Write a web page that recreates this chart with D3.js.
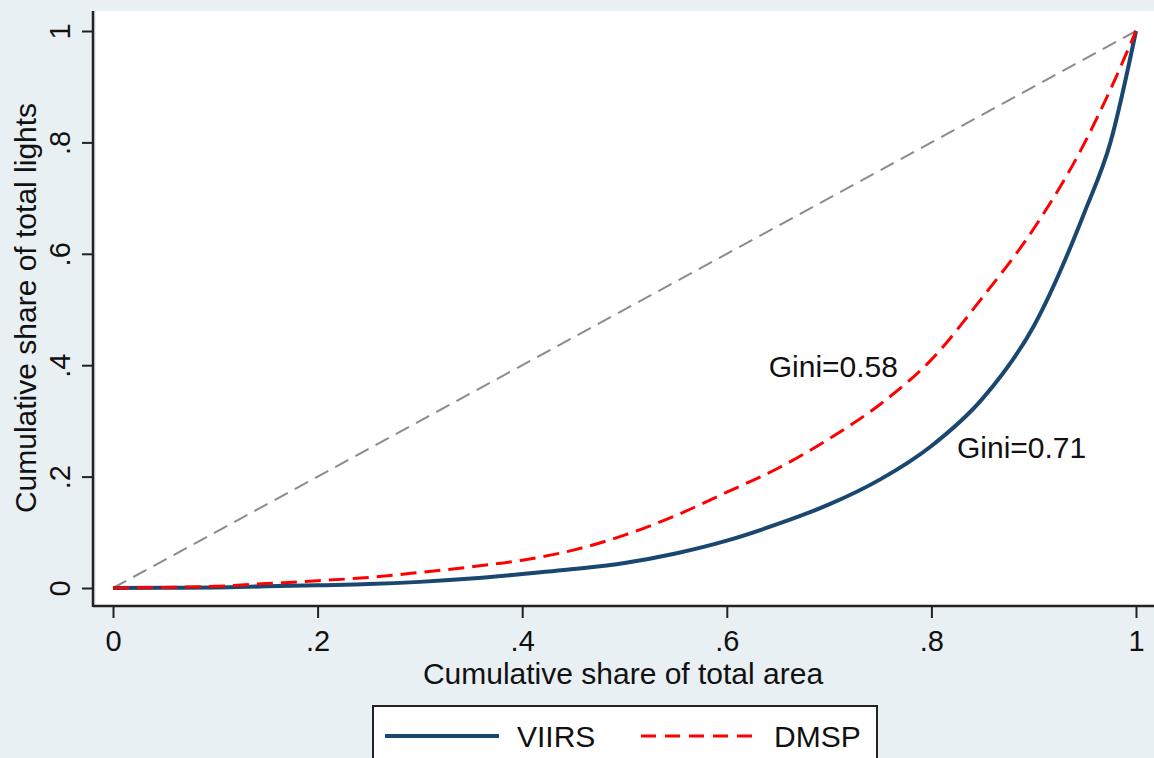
<!DOCTYPE html>
<html>
<head>
<meta charset="utf-8">
<script src="https://cdn.jsdelivr.net/npm/d3@7"></script>
<style>
  body { margin: 0; background: #e9f0f3; }
  text { font-family: "Liberation Sans", Arial, sans-serif; fill: #111; }
</style>
</head>
<body>
<script>
// cumulative share of area (x) vs cumulative share of lights (y)
var shareArea = [0, 0.05, 0.1, 0.15, 0.2, 0.25, 0.3, 0.35, 0.4, 0.45, 0.5, 0.55, 0.6, 0.65, 0.7, 0.75, 0.8, 0.85, 0.9, 0.95, 0.975, 1];
var viirs = [0, 0.0005, 0.001, 0.003, 0.005, 0.007, 0.011, 0.017, 0.025, 0.034, 0.045, 0.062, 0.085, 0.115, 0.15, 0.195, 0.255, 0.34, 0.47, 0.676, 0.8, 1];
var dmsp = [0, 0.001, 0.003, 0.008, 0.013, 0.019, 0.028, 0.038, 0.05, 0.068, 0.095, 0.13, 0.172, 0.215, 0.268, 0.33, 0.41, 0.522, 0.645, 0.8, 0.895, 1];
var equality = [0, 1];
var ticks = [0, 0.2, 0.4, 0.6, 0.8, 1];
var tickLabels = ['0', '.2', '.4', '.6', '.8', '1'];
var giniLabels = [{text: 'Gini=0.58', x: 0.641, y: 0.378}, {text: 'Gini=0.71', x: 0.825, y: 0.233}];
var seriesNames = ['VIIRS', 'DMSP'];

var width = 1154, height = 758;
var svg = d3.select('body').append('svg').attr('width', width).attr('height', height);

svg.append('rect').attr('width', width).attr('height', height).attr('fill', '#e9f0f3');

var x = d3.scaleLinear().domain([0, 1]).range([113, 1136]);
var y = d3.scaleLinear().domain([0, 1]).range([588, 31]);

// plot region
svg.append('rect').attr('x', 96).attr('y', 11).attr('width', width - 96).attr('height', 595).attr('fill', '#ffffff');

var line = d3.line()
    .x(function(d){ return x(d[0]); })
    .y(function(d){ return y(d[1]); })
    .curve(d3.curveMonotoneX);

svg.append('path')
    .attr('d', line(equality.map(function(v){ return [v, v]; })))
    .attr('fill', 'none').attr('stroke', '#8c8c8c').attr('stroke-width', 2)
    .attr('stroke-dasharray', '15 8');

svg.append('path')
    .attr('d', line(shareArea.map(function(v, i){ return [v, viirs[i]]; })))
    .attr('fill', 'none').attr('stroke', '#1a476f').attr('stroke-width', 4);

svg.append('path')
    .attr('d', line(shareArea.map(function(v, i){ return [v, dmsp[i]]; })))
    .attr('fill', 'none').attr('stroke', '#ff0000').attr('stroke-width', 3)
    .attr('stroke-dasharray', '16 8');

// axes
var xAxis = d3.axisBottom(x).tickValues(ticks).tickFormat(function(d, i){ return tickLabels[i]; })
    .tickSize(12).tickPadding(12).tickSizeOuter(0);
var gx = svg.append('g').attr('transform', 'translate(0,606)').call(xAxis);
gx.select('.domain').attr('d', 'M93,0H' + width).attr('stroke', '#222').attr('stroke-width', 2.5);
gx.selectAll('.tick line').attr('stroke', '#222').attr('stroke-width', 2);
gx.selectAll('.tick text').attr('font-size', 29).attr('fill', '#111')
    .style('font-family', '"Liberation Sans", Arial, sans-serif');

var yAxis = d3.axisLeft(y).tickValues(ticks).tickFormat(function(d, i){ return tickLabels[i]; })
    .tickSize(11).tickSizeOuter(0);
var gy = svg.append('g').attr('transform', 'translate(93,0)').call(yAxis);
gy.select('.domain').attr('d', 'M0,11V607').attr('stroke', '#222').attr('stroke-width', 2.5);
gy.selectAll('.tick line').attr('stroke', '#222').attr('stroke-width', 2);
gy.selectAll('.tick text')
    .attr('x', null).attr('dy', null)
    .attr('text-anchor', 'middle')
    .attr('transform', 'translate(-23,0) rotate(-90)')
    .attr('font-size', 29).attr('fill', '#111')
    .style('font-family', '"Liberation Sans", Arial, sans-serif');

// axis titles
svg.append('text').attr('x', 623).attr('y', 684).attr('text-anchor', 'middle').attr('font-size', 30)
    .text('Cumulative share of total area');
svg.append('text').attr('transform', 'translate(36,308) rotate(-90)').attr('text-anchor', 'middle').attr('font-size', 30)
    .text('Cumulative share of total lights');

// gini annotations
svg.selectAll('text.gini').data(giniLabels).enter().append('text')
    .attr('class', 'gini')
    .attr('x', function(d){ return x(d.x); })
    .attr('y', function(d){ return y(d.y); })
    .attr('font-size', 30)
    .text(function(d){ return d.text; });

// legend
var legend = svg.append('g');
legend.append('rect').attr('x', 373).attr('y', 706).attr('width', 504).attr('height', 70)
    .attr('fill', '#ffffff').attr('stroke', '#222').attr('stroke-width', 2);
legend.append('line').attr('x1', 385).attr('x2', 499).attr('y1', 736).attr('y2', 736)
    .attr('stroke', '#1a476f').attr('stroke-width', 4);
legend.append('text').attr('x', 517).attr('y', 747).attr('font-size', 30).text(seriesNames[0]);
legend.append('line').attr('x1', 641).attr('x2', 755).attr('y1', 736).attr('y2', 736)
    .attr('stroke', '#ff0000').attr('stroke-width', 3).attr('stroke-dasharray', '15 9');
legend.append('text').attr('x', 774).attr('y', 747).attr('font-size', 30).text(seriesNames[1]);
</script>
</body>
</html>
